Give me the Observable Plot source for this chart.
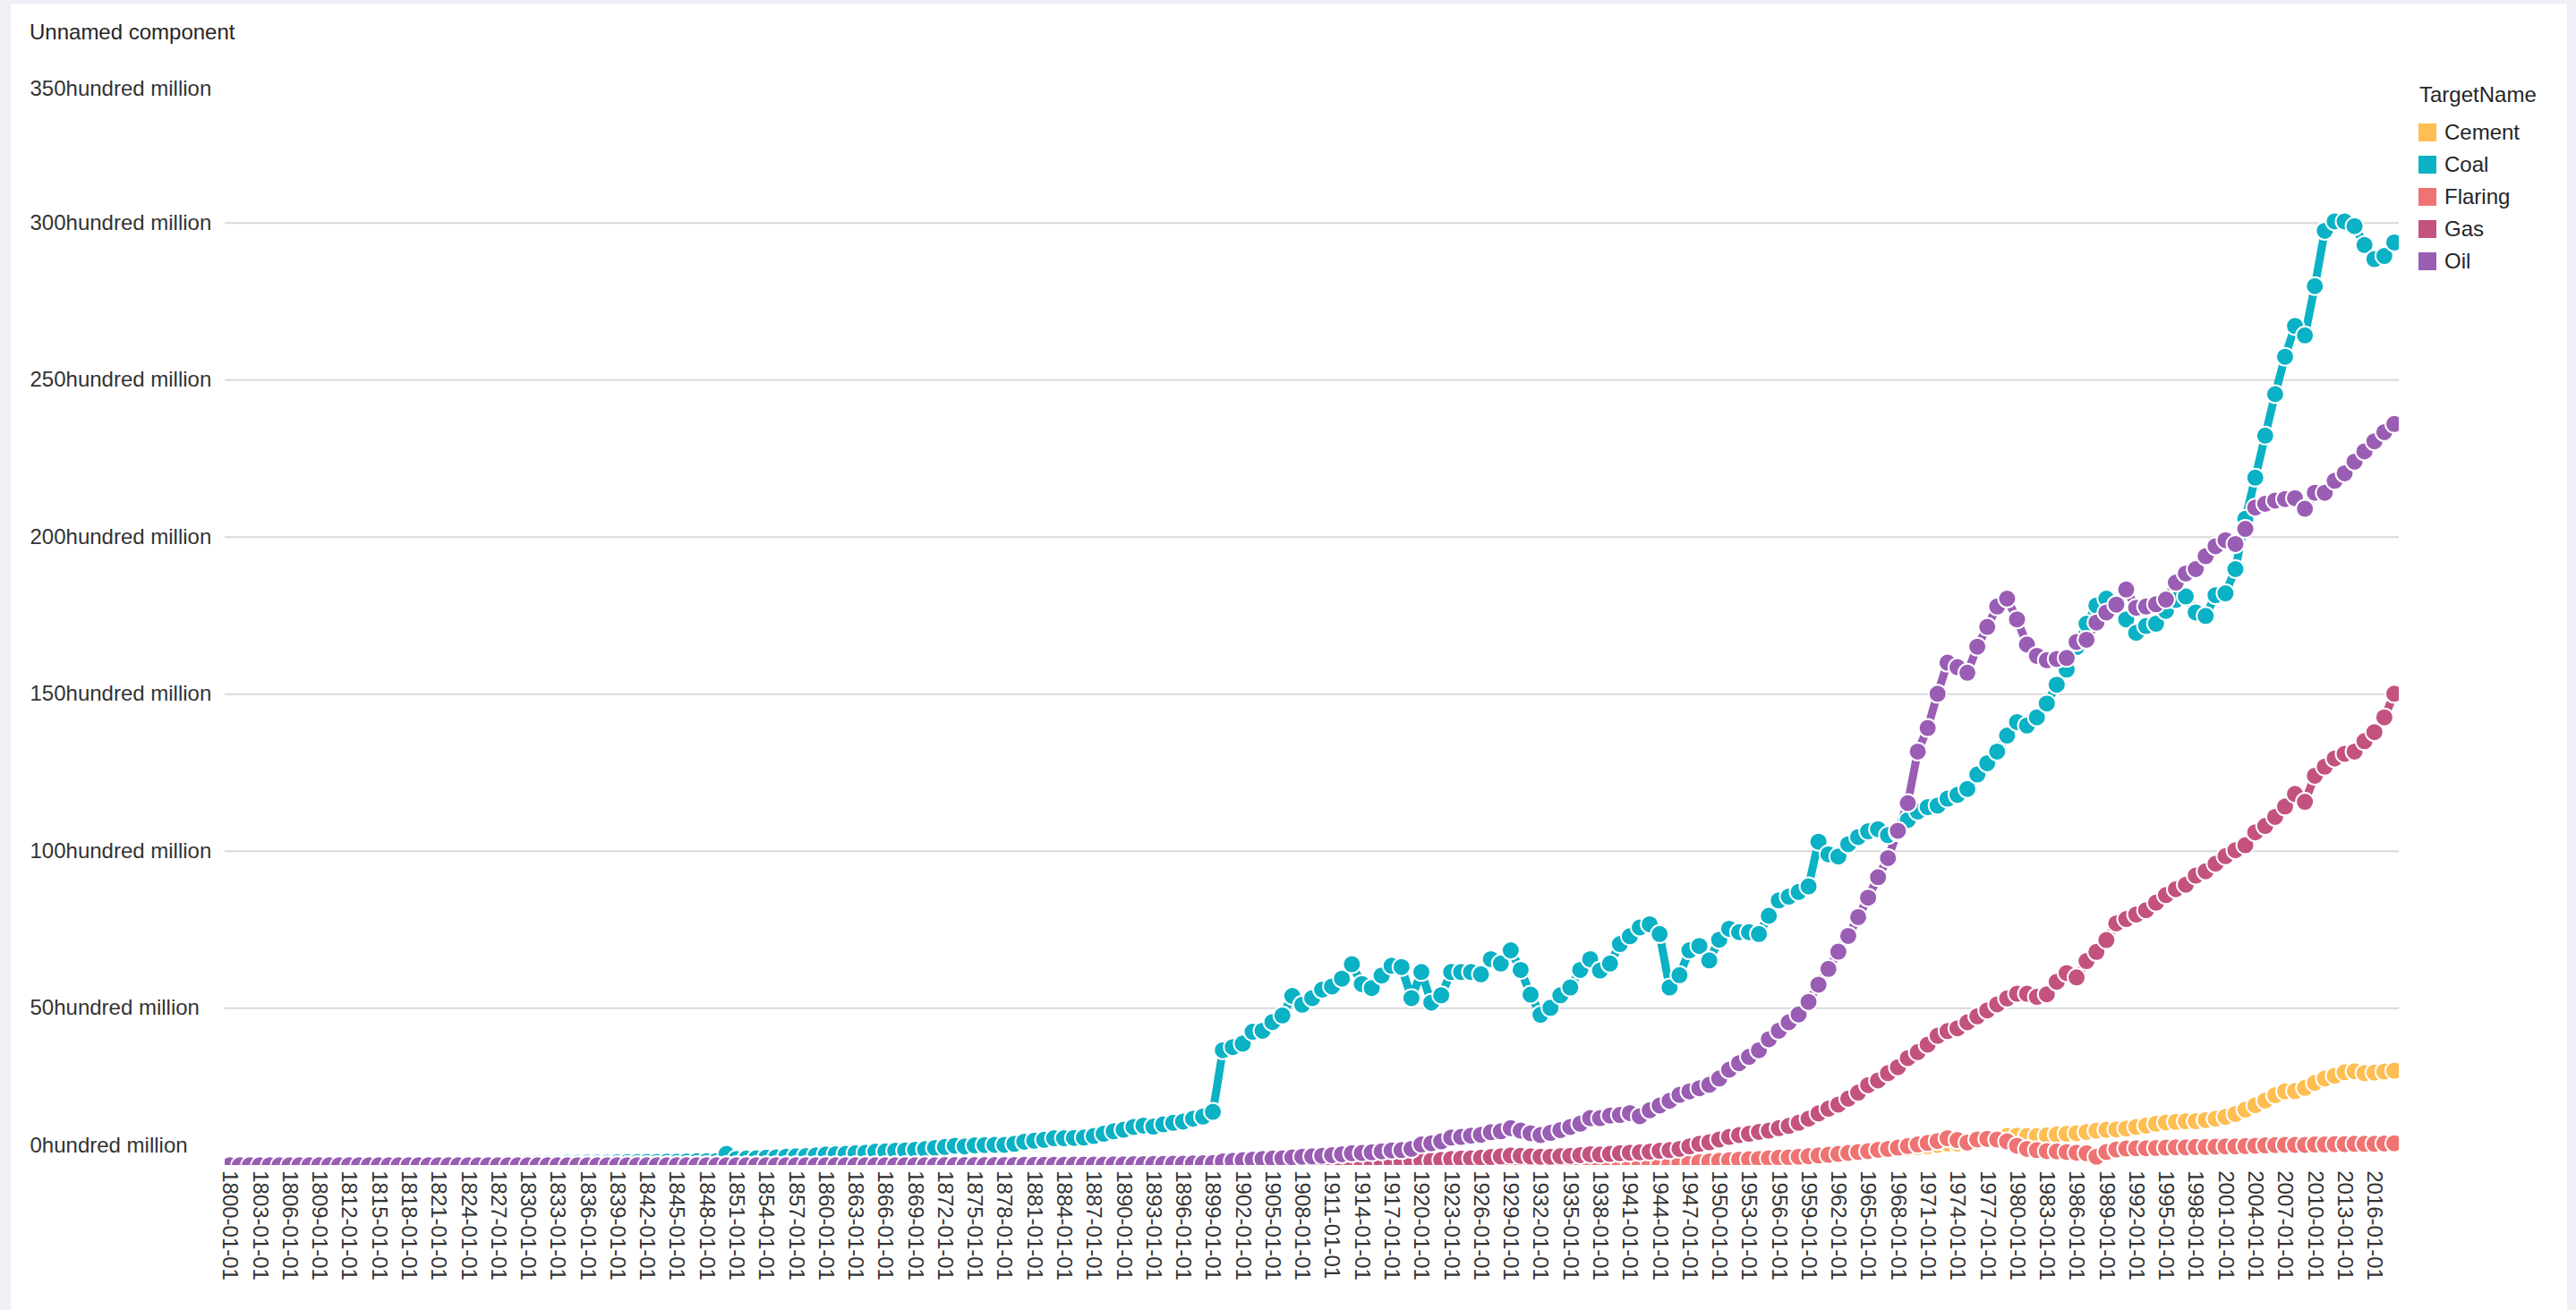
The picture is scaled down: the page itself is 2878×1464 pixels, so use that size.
<!DOCTYPE html>
<html>
<head>
<meta charset="utf-8">
<script src="https://cdn.jsdelivr.net/npm/d3@7"></script>
<script src="https://cdn.jsdelivr.net/npm/@observablehq/plot@0.6"></script>
<style>
  html, body { margin: 0; padding: 0; background: #eff0f5; }
  body { width: 2878px; height: 1464px; position: relative; overflow: hidden;
         font-family: "Liberation Sans", Arial, sans-serif; }
  #card { position: absolute; left: 12px; top: 4px; width: 2856px; height: 1470px; background: #fff; }
  #title { position: absolute; left: 33px; top: 22px; font-size: 24px; line-height: 28px; color: #262626; }
  #chart { position: absolute; left: 0; top: 0; }
  #legend { position: absolute; left: 0; top: 0; }
  .lg-title { position: absolute; left: 2703px; top: 92px; font-size: 24px; line-height: 28px; color: #262626; white-space: nowrap; }
  .lg-sw { position: absolute; width: 20px; height: 20px; }
  .lg-tx { position: absolute; font-size: 24px; line-height: 28px; color: #262626; white-space: nowrap; }
</style>
</head>
<body>
<div id="card"></div>
<div id="title">Unnamed component</div>
<div id="chart"></div>
<div id="legend"></div>
<script>
// ---- categories ----
const seriesNames = ["Cement", "Coal", "Flaring", "Gas", "Oil"];
const seriesColors = ["#FFBE52", "#0BB1C4", "#F07373", "#C4527F", "#9A5DB4"];
const firstYear = 1800;
const lastYear = 2018;
const yTicks = [0, 50, 100, 150, 200, 250, 300, 350];
const xTickYears = [1800,1803,1806,1809,1812,1815,1818,1821,1824,1827,1830,1833,1836,1839,1842,1845,1848,1851,1854,1857,1860,1863,1866,1869,1872,1875,1878,1881,1884,1887,1890,1893,1896,1899,1902,1905,1908,1911,1914,1917,1920,1923,1926,1929,1932,1935,1938,1941,1944,1947,1950,1953,1956,1959,1962,1965,1968,1971,1974,1977,1980,1983,1986,1989,1992,1995,1998,2001,2004,2007,2010,2013,2016];

// ---- series values (hundred million), one per year 1800..2018 ----
const cement = [
0,0,0,0,0,0,0,0,0,0, 0,0,0,0,0,0,0,0,0,0, 0,0,0,0,0,0,0,0,0,0, 0,0,0,0,0,0,0,0,0,0,
0,0,0,0,0,0,0,0,0,0, 0,0,0,0,0,0,0,0,0,0, 0,0,0,0,0,0,0,0,0,0, 0,0,0,0,0,0,0,0,0,0,
0,0,0,0,0,0,0,0,0,0, 0,0,0,0,0,0,0,0,0,0, 0,0,0,0,0,0,0,0,0,0, 0,0,0,0,0,0,0,0,0,0,
0,0,0,0,0,0,0,0,0.9,1.0,
1.0,0.9,0.8,0.8,0.9,1.0,1.1,1.2,1.2,1.3,
1.3,1.3,1.2,1.1,1.0,0.9,1.0,1.2,1.4,1.5,
1.7,1.9,2.0,2.2,2.3,2.5,2.7,2.8,3.0,3.2,
3.4,3.5,3.7,3.9,4.2,4.4,4.7,4.9,5.2,5.5,
5.8,6.1,6.5,6.9,6.9,7.0,7.5,8.0,8.5,9.3,
9.4,9.3,9.3,9.5,9.8,10.0,10.2,10.6,11.0,11.3,
11.4,11.7,12.2,12.6,13.2,13.6,13.8,14.0,14.0,14.4,
14.8,15.4,16.3,17.7,19.1,20.6,22.3,23.5,23.6,24.6,
26.2,27.6,28.5,29.6,29.9,29.3,29.5,29.8,30.1];

const coal = [
0.28,0.29,0.30,0.31,0.32,0.33,0.33,0.34,0.35,0.36,
0.37,0.38,0.39,0.40,0.41,0.42,0.43,0.44,0.45,0.46,
0.47,0.49,0.50,0.52,0.54,0.56,0.57,0.59,0.61,0.63,
0.65,0.67,0.69,0.72,0.75,0.78,0.81,0.84,0.87,0.91,
0.95,0.99,1.02,1.06,1.10,1.15,1.20,1.25,1.30,1.35,
3.6,2.0,2.1,2.2,2.4,2.5,2.7,2.8,2.9,3.1,
3.4,3.5,3.6,3.8,4.0,4.3,4.4,4.6,4.7,4.9,
5.1,5.5,5.8,6.2,6.0,6.3,6.4,6.5,6.5,6.8,
7.5,7.8,8.1,8.6,8.6,8.7,8.8,9.3,10.0,10.8,
11.3,12.2,12.6,12.3,13.0,13.5,13.9,14.8,15.5,17.0,
36.6,37.6,38.7,42.5,42.8,45.6,47.7,53.9,51.1,53.2,
55.9,56.9,59.4,64.0,57.7,56.4,60.4,63.5,63.1,53.2,
61.5,51.8,54.1,61.5,61.5,61.5,60.8,65.6,64.2,68.4,
62.2,54.3,47.9,50.1,54.1,56.6,62.2,65.6,62.0,64.2,
70.4,72.9,75.7,76.7,73.6,56.6,60.5,68.4,69.8,65.2,
71.8,75.3,74.2,74.2,73.6,79.4,84.3,85.5,87.0,88.8,
103.0,99.0,98.3,102.2,104.5,106.3,107.0,105.1,106.0,109.9,
112.6,114.0,114.5,116.7,117.9,119.8,124.4,128.0,131.7,136.8,
141.1,140.0,142.6,147.0,153.0,157.8,165.0,172.4,178.2,180.4,
178.5,173.8,169.5,171.7,172.4,176.5,180.0,181.1,176.0,174.9,
181.5,182.1,189.8,205.8,218.9,232.3,245.5,257.4,267.2,264.2,
279.9,297.5,300.5,300.5,299.0,293.0,288.5,289.5,293.8];

const flaring = [
0,0,0,0,0,0,0,0,0,0, 0,0,0,0,0,0,0,0,0,0, 0,0,0,0,0,0,0,0,0,0, 0,0,0,0,0,0,0,0,0,0,
0,0,0,0,0,0,0,0,0,0, 0,0,0,0,0,0,0,0,0,0, 0,0,0,0,0,0,0,0,0,0, 0,0,0,0,0,0,0,0,0,0,
0,0,0,0,0,0,0,0,0,0, 0,0,0,0,0,0,0,0,0,0, 0,0,0,0,0,0,0,0,0,0, 0,0,0,0,0,0,0,0,0,0,
0,0,0,0,0,0,0,0,0,0, 0,0,0,0,0,0,0,0,0,0,
0.4,0.4,0.5,0.5,0.6,0.6,0.8,0.9,1.0,1.2,
1.4,1.6,1.8,1.9,2.0,2.2,2.4,2.5,2.7,2.9,
3.1,3.3,3.6,3.9,4.2,4.5,4.9,5.2,5.6,6.1,
6.6,7.1,7.7,8.6,8.0,7.2,8.2,8.4,8.2,7.6,
6.2,5.2,4.8,4.5,4.4,4.2,4.0,3.8,2.7,4.2,
5.0,5.3,5.4,5.4,5.5,5.6,5.7,5.7,5.8,5.8,
5.9,6.0,6.0,6.1,6.2,6.3,6.4,6.5,6.5,6.5,
6.6,6.6,6.7,6.7,6.8,6.8,6.8,6.9,7.0];

const gas = [
0,0,0,0,0,0,0,0,0,0, 0,0,0,0,0,0,0,0,0,0, 0,0,0,0,0,0,0,0,0,0, 0,0,0,0,0,0,0,0,0,0,
0,0,0,0,0,0,0,0,0,0, 0,0,0,0,0,0,0,0,0,0, 0,0,0,0,0,0,0,0,0,0, 0,0,0,0,0,0,0,0,0,0,
0,0,0,0,0,0.05,0.06,0.07,0.08,0.09,
0.10,0.11,0.12,0.13,0.14,0.15,0.16,0.17,0.18,0.19,
0.4,0.45,0.5,0.55,0.6,0.65,0.7,0.75,0.8,0.85,
0.9,0.95,1.0,1.05,1.1,1.15,1.2,1.25,1.3,1.4,
1.5,1.5,1.7,2.0,2.1,2.2,2.4,2.6,2.8,3.1,
3.0,2.8,2.7,2.7,2.9,3.0,3.2,3.5,3.4,3.6,
3.8,4.0,4.1,4.3,4.6,4.8,5.2,6.0,6.8,7.3,
8.2,9.0,9.6,10.0,10.6,11.0,11.8,12.5,13.5,14.8,
16.5,18.0,19.3,21.2,23.1,25.5,27.0,29.3,31.2,34.1,
36.0,38.4,41.2,42.7,43.6,45.5,47.4,49.3,51.2,53.1,
54.6,54.6,53.6,54.4,58.4,61.2,59.8,65.0,67.9,71.7,
77.0,78.4,79.8,81.2,83.6,86.0,87.9,89.3,92.2,93.6,
96.0,98.4,100.3,101.9,106.0,108.0,110.9,114.2,118.2,115.7,
124.0,126.9,129.5,131.0,131.7,135.0,137.9,142.6,150.1];

const oil = [
0,0,0,0,0,0,0,0,0,0, 0,0,0,0,0,0,0,0,0,0, 0,0,0,0,0,0,0,0,0,0, 0,0,0,0,0,0,0,0,0,0,
0,0,0,0,0,0,0,0,0,0, 0,0,0,0,0,0,0,0,0,0, 0,0,0,0,0,0,0,0,0,0,
0.02,0.02,0.03,0.03,0.04,0.05,0.05,0.06,0.07,0.08,
0.10,0.11,0.12,0.14,0.15,0.17,0.19,0.21,0.23,0.26,
0.30,0.33,0.36,0.40,0.43,0.47,0.51,0.56,0.62,0.70,
1.2,1.4,1.6,1.8,2.0,2.1,2.2,2.5,2.7,2.8,
3.0,3.2,3.5,3.8,3.9,4.1,4.4,4.7,4.8,5.2,
6.6,7.0,7.6,8.8,9.0,9.4,9.7,10.5,10.8,11.8,
11.0,10.2,9.6,10.3,11.2,12.2,13.2,15.0,15.0,15.8,
16.0,16.6,15.6,17.5,19.0,20.5,22.4,23.5,24.5,25.6,
27.6,30.4,32.5,34.5,36.6,40.1,42.8,45.5,48.0,52.0,
57.5,62.5,68.0,73.0,79.0,85.2,91.7,97.8,106.5,115.3,
131.7,139.2,150.1,160.0,158.6,156.8,165.1,171.4,177.9,180.4,
173.8,165.8,162.2,160.8,161.2,161.5,166.6,167.3,172.8,176.0,
178.5,183.3,177.5,177.9,178.6,180.1,185.5,188.4,189.8,193.9,
197.1,199.0,197.8,202.6,209.4,210.6,211.6,212.1,212.4,209.0,
214.1,214.1,217.9,220.3,224.0,227.3,230.5,233.4,236.0];

// ---- build table ----
const years = d3.range(firstYear, lastYear + 1);
const seriesValues = [cement, coal, flaring, gas, oil];
seriesValues.forEach((arr, i) => {
  if (arr.length !== years.length) throw new Error(seriesNames[i] + " has " + arr.length + " values, expected " + years.length);
});
const rows = seriesNames.flatMap((name, i) =>
  years.map((year, j) => ({series: name, year, value: seriesValues[i][j]})));

const fmtY = d => `${d}hundred million`;
const axisYCommon = {tickSize: 0, tickPadding: 218, textAnchor: "start", tickFormat: fmtY, fill: "#333", fontSize: 24, label: null};

const chart = Plot.plot({
  width: 2878,
  height: 1464,
  marginLeft: 251,
  marginRight: 198,
  marginTop: 73.2,
  marginBottom: 162.3,
  style: {fontFamily: '"Liberation Sans", Arial, sans-serif', fontSize: "24px", color: "#333", background: "transparent", overflow: "visible"},
  x: {type: "linear", domain: [firstYear - 0.5, lastYear + 0.5], label: null},
  y: {domain: [0, 350], label: null},
  color: {domain: seriesNames, range: seriesColors},
  marks: [
    Plot.ruleY(yTicks.filter(d => d > 0 && d < 350), {stroke: "#d9d9d9", strokeWidth: 2}),
    Plot.line(rows, {x: "year", y: "value", z: "series", stroke: "series", strokeWidth: 9, strokeLinejoin: "round", clip: true}),
    Plot.dot(rows, {x: "year", y: "value", fill: "series", stroke: "white", strokeWidth: 2, r: 10, clip: true}),
    Plot.axisY({...axisYCommon, ticks: yTicks.filter(d => d > 0 && d < 350)}),
    Plot.axisY({...axisYCommon, ticks: [350], dy: 26}),
    Plot.axisY({...axisYCommon, ticks: [0], dy: -22}),
    Plot.axisX({ticks: xTickYears, tickFormat: d => `${d}-01-01`, tickRotate: 90, tickSize: 0, tickPadding: 6, fill: "#333", fontSize: 24, label: null})
  ]
});
document.getElementById("chart").appendChild(chart);

// ---- legend ----
const legend = document.getElementById("legend");
const lt = document.createElement("div");
lt.className = "lg-title";
lt.textContent = "TargetName";
legend.appendChild(lt);
seriesNames.forEach((name, i) => {
  const cy = 148 + i * 36;
  const sw = document.createElement("div");
  sw.className = "lg-sw";
  sw.style.left = "2702px";
  sw.style.top = (cy - 10) + "px";
  sw.style.background = seriesColors[i];
  legend.appendChild(sw);
  const tx = document.createElement("div");
  tx.className = "lg-tx";
  tx.style.left = "2731px";
  tx.style.top = (cy - 14) + "px";
  tx.textContent = name;
  legend.appendChild(tx);
});
</script>
</body>
</html>
